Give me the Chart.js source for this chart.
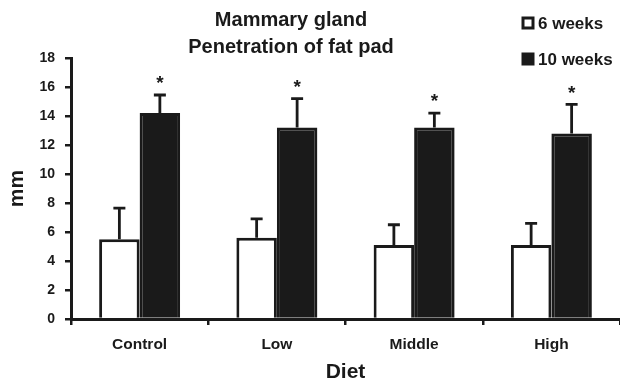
<!DOCTYPE html>
<html>
<head>
<meta charset="utf-8">
<script src="https://cdn.jsdelivr.net/npm/chart.js@4.4.1/dist/chart.umd.min.js"></script>
<style>
  html, body { margin: 0; padding: 0; background: #fff; }
  #wrap { width: 620px; height: 383px; }
</style>
</head>
<body>
<div id="wrap"><canvas id="chart" width="620" height="383"></canvas></div>
<script>
const categories = ["Control", "Low", "Middle", "High"];
const sixWeeks = [5.5, 5.6, 5.1, 5.1];
const sixWeeksErr = [2.15, 1.3, 1.4, 1.5];
const tenWeeks = [14.2, 13.2, 13.2, 12.8];
const tenWeeksErr = [1.25, 2.0, 1.0, 2.0];
const significant = [true, true, true, true];
const yTicks = [0, 2, 4, 6, 8, 10, 12, 14, 16, 18];

const FONT = "'Liberation Sans', Arial, sans-serif";
const INK = "#1a1a1a";

// error bars (upper only) plus asterisks over the 10 week bars
const errorBars = {
  id: "errorBars",
  afterDatasetsDraw(chart) {
    const ctx = chart.ctx;
    const y = chart.scales.y;
    const errs = [sixWeeksErr, tenWeeksErr];
    ctx.save();
    ctx.strokeStyle = INK;
    ctx.lineWidth = 2.8;
    chart.data.datasets.forEach((ds, di) => {
      chart.getDatasetMeta(di).data.forEach((bar, i) => {
        const top = y.getPixelForValue(ds.data[i] + errs[di][i]);
        ctx.beginPath();
        ctx.moveTo(bar.x, bar.y);
        ctx.lineTo(bar.x, top);
        ctx.moveTo(bar.x - 6, top);
        ctx.lineTo(bar.x + 6, top);
        ctx.stroke();
        if (di === 1 && significant[i]) {
          ctx.fillStyle = INK;
          ctx.font = "bold 19px " + FONT;
          ctx.textAlign = "center";
          ctx.textBaseline = "middle";
          ctx.fillText("*", bar.x, top - 11);
        }
      });
    });
    ctx.restore();
  }
};

// two-line title and the legend in the top right corner
const header = {
  id: "header",
  afterDraw(chart) {
    const ctx = chart.ctx;
    ctx.save();
    ctx.fillStyle = INK;
    ctx.textBaseline = "middle";
    ctx.textAlign = "center";
    ctx.font = "bold 20px " + FONT;
    ctx.fillText("Mammary gland", 291, 20);
    ctx.fillText("Penetration of fat pad", 291, 47);

    ctx.textAlign = "left";
    ctx.font = "bold 17px " + FONT;
    const items = [["6 weeks", "#fff", 23], ["10 weeks", INK, 59]];
    items.forEach(([label, fill, cy]) => {
      ctx.fillStyle = fill;
      ctx.fillRect(523, cy - 5, 10, 10);
      ctx.strokeStyle = INK;
      ctx.lineWidth = 3;
      ctx.strokeRect(523, cy - 5, 10, 10);
      ctx.fillStyle = INK;
      ctx.fillText(label, 538, cy + 1);
    });
    ctx.restore();
  }
};

new Chart(document.getElementById("chart"), {
  type: "bar",
  data: {
    labels: categories,
    datasets: [
      {
        label: "6 weeks",
        data: sixWeeks,
        backgroundColor: "#fff",
        borderColor: INK,
        borderWidth: 3,
        borderSkipped: "bottom"
      },
      {
        label: "10 weeks",
        data: tenWeeks,
        backgroundColor: INK,
        borderColor: INK,
        borderWidth: 3,
        borderSkipped: "bottom"
      }
    ]
  },
  options: {
    responsive: false,
    animation: false,
    layout: { padding: { top: 58, right: 0, left: 0, bottom: 0 } },
    datasets: { bar: { barPercentage: 1, categoryPercentage: 0.59 } },
    plugins: {
      legend: { display: false },
      title: { display: false },
      tooltip: { enabled: false }
    },
    scales: {
      x: {
        afterFit: (s) => { s.height = 64; },
        border: { color: INK, width: 3 },
        grid: { drawOnChartArea: false, drawTicks: true, tickLength: 6, color: INK, lineWidth: 2.5, offset: true },
        ticks: { color: INK, font: { family: FONT, weight: "bold", size: 15.5 }, padding: 10 },
        title: { display: true, text: "Diet", color: INK, font: { family: FONT, weight: "bold", size: 21, lineHeight: 1 }, padding: { top: 0, bottom: 0 } }
      },
      y: {
        min: 0,
        max: 18,
        afterFit: (s) => { s.width = 71; },
        afterBuildTicks: (s) => { s.ticks = yTicks.map((v) => ({ value: v })); },
        border: { color: INK, width: 3 },
        grid: { drawOnChartArea: false, drawTicks: true, tickLength: 6, color: INK, lineWidth: 2.5 },
        ticks: { color: INK, font: { family: FONT, weight: "bold", size: 14 }, padding: 10 },
        title: { display: true, text: "mm", color: INK, font: { family: FONT, weight: "bold", size: 21, lineHeight: 1 }, padding: { top: 7, bottom: 0 } }
      }
    }
  },
  plugins: [errorBars, header]
});
</script>
</body>
</html>
